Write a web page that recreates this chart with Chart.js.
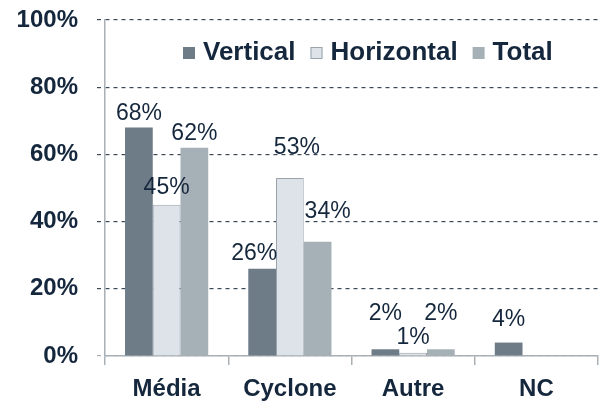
<!DOCTYPE html>
<html>
<head>
<meta charset="utf-8">
<script src="https://cdn.jsdelivr.net/npm/chart.js@4/dist/chart.umd.min.js"></script>
<style>
  html,body{margin:0;padding:0;background:#fff;}
  #wrap{width:600px;height:403px;}
</style>
</head>
<body>
<div id="wrap"><canvas id="c"></canvas></div>
<script>
// chart data
const categories = ['Média', 'Cyclone', 'Autre', 'NC'];
const seriesNames = ['Vertical', 'Horizontal', 'Total'];
const vertical = [68, 26, 2, 4];
const horizontal = [45, 53, 1, null];
const total = [62, 34, 2, null];
const yTicks = [0, 20, 40, 60, 80, 100];

// styling
const TEXT = '#15273c';
const colors = ['#6e7c88', '#dde3e8', '#a6b0b7'];
const borders = ['#6e7c88', '#9aa4ac', '#a6b0b7'];
// label nudges [dx, dy from bar top] per series / category
const labelShift = [
  [[0,-14],[-8,-15],[0,-36],[0,-23]],
  [[0,-17],[7,-30],[0,-15],[0,0]],
  [[0,-14],[10,-30],[0,-36],[0,0]]
];

const valueLabels = {
  id:'valueLabels',
  afterDatasetsDraw(chart){
    const ctx = chart.ctx;
    ctx.save();
    ctx.font = '23px "Liberation Sans", Arial, sans-serif';
    ctx.fillStyle = TEXT;
    ctx.textAlign = 'center';
    ctx.textBaseline = 'middle';
    chart.data.datasets.forEach((ds, di)=>{
      chart.getDatasetMeta(di).data.forEach((el, i)=>{
        const v = ds.data[i];
        if(v === null || v === undefined) return;
        const s = labelShift[di][i];
        ctx.fillText(v + '%', el.x + s[0], el.y + s[1]);
      });
    });
    ctx.restore();
  }
};

const innerLegend = {
  id:'innerLegend',
  afterDraw(chart){
    const ctx = chart.ctx;
    ctx.save();
    ctx.font = 'bold 26px "Liberation Sans", Arial, sans-serif';
    ctx.textBaseline = 'middle';
    let x = 183; const y = 53;
    chart.data.datasets.forEach((ds, di)=>{
      ctx.fillStyle = ds.backgroundColor;
      ctx.fillRect(x, y-6, 12, 12);
      if(di === 1){ ctx.strokeStyle = '#9aa4ac'; ctx.lineWidth = 1; ctx.strokeRect(x+0.5, y-5.5, 11, 11); }
      ctx.fillStyle = TEXT;
      ctx.fillText(ds.label, x + 20, y);
      x += 20 + ctx.measureText(ds.label).width + 15;
    });
    ctx.restore();
  }
};

new Chart(document.getElementById('c'), {
  type:'bar',
  data:{
    labels: categories,
    datasets: [vertical, horizontal, total].map((d, i)=>({
      label: seriesNames[i],
      data: d,
      backgroundColor: colors[i],
      borderColor: borders[i],
      borderWidth: i === 1 ? 1 : 0,
      categoryPercentage: 0.675,
      barPercentage: 1
    }))
  },
  options:{
    responsive:true,
    maintainAspectRatio:false,
    animation:false,
    layout:{ padding:{ top:0, right:2, left:0, bottom:0 } },
    plugins:{ legend:{ display:false }, tooltip:{ enabled:false } },
    scales:{
      x:{
        offset:true,
        grid:{ offset:true, drawOnChartArea:false, tickLength:9, color:'#a9b0b6', lineWidth:1.5 },
        border:{ color:'#a9b0b6', width:1.5 },
        ticks:{ color:TEXT, padding:10, font:{ family:'"Liberation Sans", Arial, sans-serif', size:24, weight:'bold' } },
        afterFit(s){ s.height = 47; }
      },
      y:{
        min:0, max:100,
        afterBuildTicks(s){ s.ticks = yTicks.map(v=>({value:v})); },
        grid:{
          color: c => c.tick && c.tick.value === 0 ? '#a9b0b6' : '#3c4a58',
          lineWidth:1.2, tickLength:8,
          tickBorderDash:[4,4]
        },
        border:{ color:'#a9b0b6', width:1.5, dash:[4,4] },
        ticks:{ color:TEXT, padding:19, callback:v=>v+'%', font:{ family:'"Liberation Sans", Arial, sans-serif', size:24, weight:'bold' } },
        afterFit(s){ s.width = 105; s.paddingTop = 20; s.paddingBottom = 0; }
      }
    }
  },
  plugins:[valueLabels, innerLegend]
});
</script>
</body>
</html>
